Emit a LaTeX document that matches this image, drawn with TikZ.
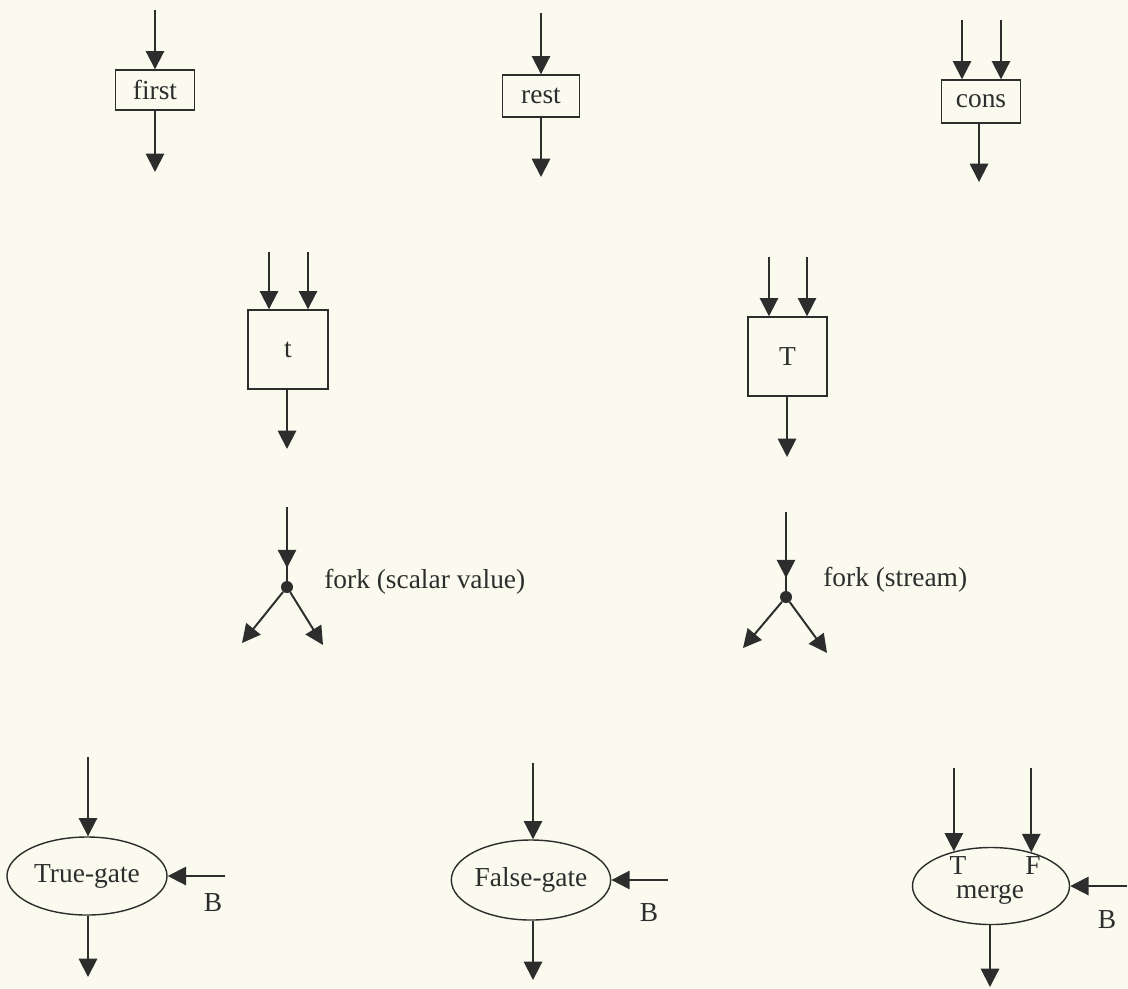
\documentclass[tikz,border=0pt]{standalone}
\usepackage{fontspec}
\setmainfont{Liberation Serif}
\usetikzlibrary{shapes.geometric, arrows.meta, positioning}
\definecolor{paper}{RGB}{251,250,238}
\definecolor{ink}{RGB}{45,45,45}
\tikzset{
    opbox/.style={rectangle, draw=ink, line width=1pt, inner sep=0pt, text=ink, font=\fontsize{19.5}{22}\selectfont},
    gate/.style={ellipse, draw=ink, line width=1pt, inner sep=0pt, text=ink, font=\fontsize{19.5}{22}\selectfont},
    forkdot/.style={circle, fill=ink, inner sep=0pt, minimum size=0.3cm},
    lbl/.style={inner sep=0pt, text=ink, font=\fontsize{19.5}{22}\selectfont},
    wire/.style={draw=ink, line width=1.4pt},
    arrow/.style={draw=ink, line width=1.4pt, -{Triangle[length=13pt, width=13pt]}}
}

\begin{document}
\begin{tikzpicture}[x=0.025cm, y=-0.025cm]
    \fill[paper] (0,0) rectangle (1128,988);
    \useasboundingbox (0,0) rectangle (1128,988);

    \node (first) [opbox, minimum width=1.975cm, minimum height=1cm] at (155,90) {first};
    \node (rest) [opbox, minimum width=1.925cm, minimum height=1.05cm] at (541,96) {rest};
    \node (cons) [opbox, minimum width=1.975cm, minimum height=1.075cm] at (981,101.5) {cons};

    \node (tsmall) [opbox, minimum width=2cm, minimum height=1.975cm] at (288,349.5) {t};
    \node (tbig) [opbox, minimum width=1.975cm, minimum height=1.975cm] at (787.5,356.5) {T};

    \node (fork1) [forkdot] at (287,587) {};
    \node (fork2) [forkdot] at (786,597) {};
    \node (fork1lbl) [lbl, anchor=west] at (324,582) {fork (scalar value)};
    \node (fork2lbl) [lbl, anchor=west] at (823,580) {fork (stream)};

    \node (truegate) [gate, minimum width=4cm, minimum height=1.95cm] at (87,876) {True-gate};
    \node (falsegate) [gate, minimum width=3.925cm, minimum height=2cm] at (531,880) {False-gate};
    \node (merge) [gate, minimum width=3.925cm, minimum height=1.925cm] at (991,886) {};
    \node (mergelbl) [lbl, anchor=base] at (990,898) {merge};
    \node (mergeT) [lbl, anchor=base] at (958,874) {T};
    \node (mergeF) [lbl, anchor=base] at (1033,874) {F};

    \node (tgBlbl) [lbl] at (213,903) {B};
    \node (fgBlbl) [lbl] at (649,913) {B};
    \node (mgBlbl) [lbl] at (1107,920) {B};

    \coordinate (firstin) at (155,10);
    \coordinate (firstout) at (155,172);
    \coordinate (restin) at (541,13);
    \coordinate (restout) at (541,177);
    \coordinate (consinL) at (962,20);
    \coordinate (consinR) at (1001,20);
    \coordinate (consout) at (979,182);
    \coordinate (tsmallinL) at (269,252);
    \coordinate (tsmallinR) at (308,252);
    \coordinate (tsmallout) at (287,449);
    \coordinate (tbiginL) at (769,257);
    \coordinate (tbiginR) at (807,257);
    \coordinate (tbigout) at (787,457);
    \coordinate (fork1in) at (287,507);
    \coordinate (fork1l) at (242,643);
    \coordinate (fork1r) at (323,645);
    \coordinate (fork2in) at (786,512);
    \coordinate (fork2l) at (743,648);
    \coordinate (fork2r) at (827,653);
    \coordinate (tgin) at (88,757);
    \coordinate (tgout) at (88,977);
    \coordinate (tgB) at (225,876);
    \coordinate (fgin) at (533,763);
    \coordinate (fgout) at (533,980);
    \coordinate (fgB) at (668,880);
    \coordinate (mgtop) at (0,768);
    \coordinate (mgout) at (990,987);
    \coordinate (mgB) at (1127,886);

    \draw [arrow] (firstin) -- (first.north);
    \draw [arrow] (first.south) -- (firstout);
    \draw [arrow] (restin) -- (rest.north);
    \draw [arrow] (rest.south) -- (restout);
    \draw [arrow] (consinL) -- (consinL |- cons.north);
    \draw [arrow] (consinR) -- (consinR |- cons.north);
    \draw [arrow] (consout |- cons.south) -- (consout);

    \draw [arrow] (tsmallinL) -- (tsmallinL |- tsmall.north);
    \draw [arrow] (tsmallinR) -- (tsmallinR |- tsmall.north);
    \draw [arrow] (tsmallout |- tsmall.south) -- (tsmallout);
    \draw [arrow] (tbiginL) -- (tbiginL |- tbig.north);
    \draw [arrow] (tbiginR) -- (tbiginR |- tbig.north);
    \draw [arrow] (tbigout |- tbig.south) -- (tbigout);

    \draw [wire] (fork1in) -- (fork1);
    \draw [arrow, shorten >=9pt] (fork1in) -- (fork1);
    \draw [arrow] (fork1) -- (fork1l);
    \draw [arrow] (fork1) -- (fork1r);
    \draw [wire] (fork2in) -- (fork2);
    \draw [arrow, shorten >=9pt] (fork2in) -- (fork2);
    \draw [arrow] (fork2) -- (fork2l);
    \draw [arrow] (fork2) -- (fork2r);

    \draw [arrow] (tgin) -- (tgin |- truegate.north);
    \draw [arrow] (tgout |- truegate.south) -- (tgout);
    \draw [arrow] (tgB) -- (truegate.east);
    \draw [arrow] (fgin) -- (fgin |- falsegate.north);
    \draw [arrow] (fgout |- falsegate.south) -- (fgout);
    \draw [arrow] (fgB) -- (falsegate.east);
    \draw [arrow] (mgtop -| merge.137) -- (merge.137);
    \draw [arrow] (mgtop -| merge.40) -- (merge.40);
    \draw [arrow] (mgout |- merge.south) -- (mgout);
    \draw [arrow] (mgB) -- (merge.east);
\end{tikzpicture}
\end{document}
